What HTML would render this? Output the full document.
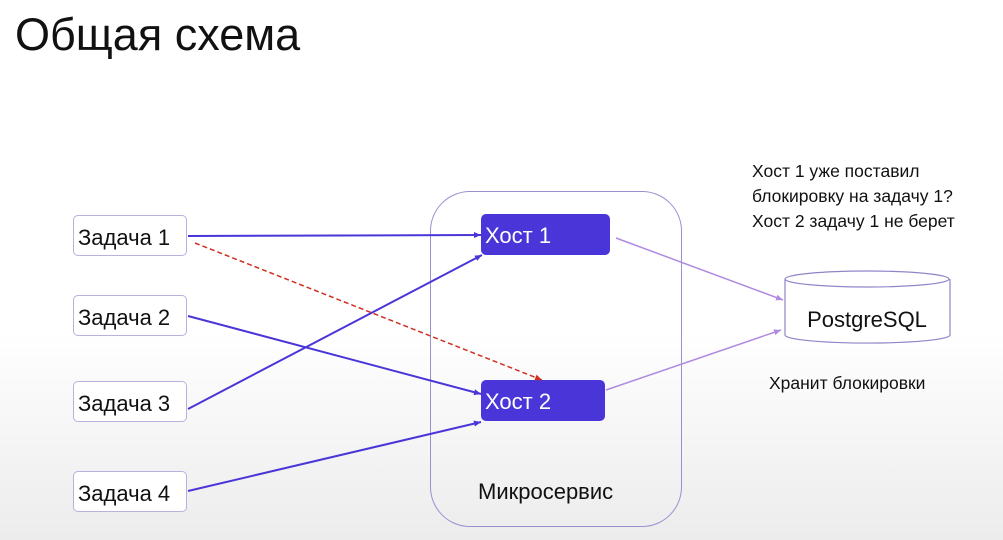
<!DOCTYPE html>
<html><head><meta charset="utf-8"><style>
html,body{margin:0;padding:0}
body{width:1003px;height:540px;overflow:hidden;background:linear-gradient(#fff 0,#fff 330px,#ececec 540px);font-family:"Liberation Sans","DejaVu Sans",sans-serif;position:relative}
.t{position:absolute;white-space:nowrap;color:#111}
.task{position:absolute;left:73px;width:114px;height:41px;border:1px solid #b8b0dd;border-radius:5px;background:#fff;box-sizing:border-box;font-size:22px;line-height:43px;padding-left:4px;color:#111;white-space:nowrap}
.host{position:absolute;background:#4a36d8;border-radius:5px;color:#fff;font-size:22px;line-height:43px;padding-left:4px;box-sizing:border-box;height:41px}
</style></head><body>
<div class="t" style="left:15px;top:9px;font-size:45px">Общая схема</div>
<div class="t" style="left:752px;top:159px;font-size:17.5px;line-height:25px">Хост 1 уже поставил<br>блокировку на задачу 1?<br>Хост 2 задачу 1 не берет</div>
<div class="t" style="left:769px;top:373px;font-size:17.5px">Хранит блокировки</div>
<div style="position:absolute;left:430px;top:191px;width:252px;height:336px;border:1px solid #9a90d0;border-radius:40px;box-sizing:border-box"></div>
<div class="t" style="left:478px;top:479px;font-size:22px">Микросервис</div>
<div class="task" style="top:215px">Задача 1</div>
<div class="task" style="top:295px">Задача 2</div>
<div class="task" style="top:381px">Задача 3</div>
<div class="task" style="top:471px">Задача 4</div>
<div class="host" style="left:481px;top:214px;width:129px">Хост 1</div>
<div class="host" style="left:481px;top:380px;width:124px">Хост 2</div>
<svg width="1003" height="540" style="position:absolute;left:0;top:0">
<defs>
<marker id="a" markerWidth="8" markerHeight="8" refX="7" refY="4" orient="auto" markerUnits="userSpaceOnUse"><path d="M0,1 L7,4 L0,7z" fill="#4a36d8"/></marker>
<marker id="b" markerWidth="8" markerHeight="8" refX="7" refY="4" orient="auto" markerUnits="userSpaceOnUse"><path d="M0,1 L7,4 L0,7z" fill="#b08ae0"/></marker>
<marker id="r" markerWidth="8" markerHeight="8" refX="7" refY="4" orient="auto" markerUnits="userSpaceOnUse"><path d="M0,1 L7,4 L0,7z" fill="#d03020"/></marker>
</defs>
<g stroke="#4a36d8" stroke-width="2" fill="none">
<line x1="188" y1="236" x2="481" y2="235" marker-end="url(#a)"/>
<line x1="188" y1="316" x2="481" y2="394" marker-end="url(#a)"/>
<line x1="188" y1="409" x2="482" y2="255" marker-end="url(#a)"/>
<line x1="188" y1="491" x2="481" y2="422" marker-end="url(#a)"/>
</g>
<line x1="195" y1="243" x2="542" y2="380" stroke="#d03020" stroke-width="1.5" stroke-dasharray="5,3" marker-end="url(#r)"/>
<g stroke="#b08ae0" stroke-width="1.5">
<line x1="616" y1="238" x2="783" y2="300" marker-end="url(#b)"/>
<line x1="606" y1="390" x2="781" y2="330" marker-end="url(#b)"/>
</g>
<g stroke="#8f86c8" stroke-width="1.2" fill="#fff">
<path d="M785,279 L785,335 A82,8 0 0 0 950,335 L950,279"/>
<ellipse cx="867" cy="279" rx="82" ry="8"/>
</g>
<text x="867" y="327" font-size="22" text-anchor="middle" fill="#111" font-family="Liberation Sans,sans-serif">PostgreSQL</text>
</svg>
</body></html>
